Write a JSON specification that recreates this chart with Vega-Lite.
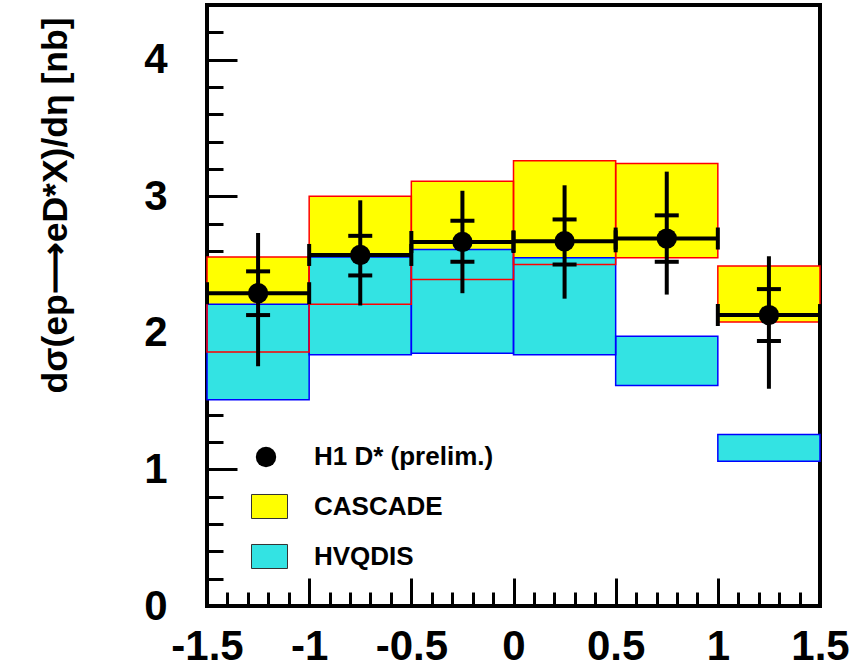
{
  "$schema": "https://vega.github.io/schema/vega-lite/v6.json",
  "width": 613,
  "height": 601,
  "autosize": "none",
  "padding": {"left": 207, "top": 5, "right": 45, "bottom": 62},
  "background": "white",
  "config": {
    "view": {"stroke": "black", "strokeWidth": 4},
    "font": "Liberation Sans",
    "axis": {"labelOverlap": false, "labelFlush": false, "labelBound": false, "domain": false, "grid": false, "tickColor": "black", "tickWidth": 3, "zindex": 1, "tickCount": 200}
  },
  "resolve": {"axis": {"x": "independent", "y": "independent"}, "scale": {"fill": "independent"}},
  "data": {
    "values": [
      {"x": -1.25, "xlo": -1.5, "xhi": -1.0, "y": 2.29, "stat_lo": 2.13, "stat_hi": 2.45, "tot_lo": 1.755, "tot_hi": 2.73, "cas_lo": 1.86, "cas_hi": 2.555, "hvq_lo": 1.51, "hvq_hi": 2.21},
      {"x": -0.75, "xlo": -1.0, "xhi": -0.5, "y": 2.57, "stat_lo": 2.42, "stat_hi": 2.71, "tot_lo": 2.2, "tot_hi": 2.97, "cas_lo": 2.21, "cas_hi": 3.0, "hvq_lo": 1.84, "hvq_hi": 2.555},
      {"x": -0.25, "xlo": -0.5, "xhi": 0.0, "y": 2.665, "stat_lo": 2.52, "stat_hi": 2.82, "tot_lo": 2.29, "tot_hi": 3.04, "cas_lo": 2.39, "cas_hi": 3.11, "hvq_lo": 1.85, "hvq_hi": 2.61},
      {"x": 0.25, "xlo": 0.0, "xhi": 0.5, "y": 2.67, "stat_lo": 2.5, "stat_hi": 2.83, "tot_lo": 2.25, "tot_hi": 3.08, "cas_lo": 2.5, "cas_hi": 3.26, "hvq_lo": 1.84, "hvq_hi": 2.55},
      {"x": 0.75, "xlo": 0.5, "xhi": 1.0, "y": 2.69, "stat_lo": 2.52, "stat_hi": 2.86, "tot_lo": 2.28, "tot_hi": 3.18, "cas_lo": 2.55, "cas_hi": 3.24, "hvq_lo": 1.615, "hvq_hi": 1.975},
      {"x": 1.25, "xlo": 1.0, "xhi": 1.5, "y": 2.13, "stat_lo": 1.94, "stat_hi": 2.32, "tot_lo": 1.59, "tot_hi": 2.56, "cas_lo": 2.08, "cas_hi": 2.49, "hvq_lo": 1.06, "hvq_hi": 1.255}
    ]
  },
  "layer": [
    {
      "mark": {"type": "rect", "strokeWidth": 0},
      "encoding": {
        "x": {
          "field": "xlo", "type": "quantitative",
          "scale": {"domain": [-1.5, 1.5], "nice": false, "zero": false},
          "axis": {
            "orient": "bottom",
            "title": null,
            "values": [-1.5, -1, -0.5, 0, 0.5, 1, 1.5],
            "labelExpr": "'' + datum.value",
            "labelFont": "Liberation Sans",
            "labelFontSize": 42,
            "labelFontWeight": "bold",
            "labelColor": "black",
            "labelPadding": 48,
            "tickSize": -28
          }
        },
        "x2": {"field": "xhi"},
        "y": {
          "field": "cas_lo", "type": "quantitative",
          "scale": {"domain": [0, 4.4], "nice": false, "zero": false},
          "axis": {
            "orient": "left",
            "title": "dσ(ep⟶eD*X)/dη [nb]",
            "titleFont": "Liberation Sans",
            "titleFontSize": 35.5,
            "titleFontWeight": "bold",
            "titleColor": "black",
            "titleAngle": 270,
            "titleAlign": "center",
            "titleBaseline": "middle",
            "titleX": -152,
            "titleY": 200,
            "values": [0, 1, 2, 3, 4],
            "labelExpr": "'' + datum.value",
            "labelFont": "Liberation Sans",
            "labelFontSize": 42,
            "labelFontWeight": "bold",
            "labelColor": "black",
            "labelPadding": 70,
            "tickSize": -30
          }
        },
        "y2": {"field": "cas_hi"},
        "fill": {
          "datum": "CASCADE", "type": "nominal",
          "scale": {"domain": ["CASCADE"], "range": ["#ffff00"]},
          "legend": {
            "orient": "none",
            "legendX": 44,
            "legendY": 483,
            "title": null,
            "padding": 0,
            "symbolType": "M-1,-0.667H1V0.667H-1Z",
            "symbolSize": 1296,
            "symbolStrokeWidth": 1,
            "symbolStrokeColor": "#333333",
            "labelFont": "Liberation Sans",
            "labelFontSize": 26,
            "labelFontWeight": "bold",
            "labelColor": "black",
            "labelOffset": 26,
            "labelLimit": 400
          }
        }
      }
    },
    {
      "mark": {"type": "rect", "strokeWidth": 0},
      "encoding": {
        "x": {
          "field": "xlo", "type": "quantitative",
          "axis": {
            "orient": "bottom",
            "title": null,
            "labels": false,
            "values": [-1.4,-1.3,-1.2,-1.1,-0.9,-0.8,-0.7,-0.6,-0.4,-0.3,-0.2,-0.1,0.1,0.2,0.3,0.4,0.6,0.7,0.8,0.9,1.1,1.2,1.3,1.4],
            "tickSize": -14
          }
        },
        "x2": {"field": "xhi"},
        "y": {
          "field": "hvq_lo", "type": "quantitative",
          "axis": {
            "orient": "left",
            "title": null,
            "labels": false,
            "values": [0.2,0.4,0.6,0.8,1.2,1.4,1.6,1.8,2.2,2.4,2.6,2.8,3.2,3.4,3.6,3.8,4.2,4.4],
            "tickSize": -16
          }
        },
        "y2": {"field": "hvq_hi"},
        "fill": {
          "datum": "HVQDIS", "type": "nominal",
          "scale": {"domain": ["HVQDIS"], "range": ["#33e3e3"]},
          "legend": {
            "orient": "none",
            "legendX": 44,
            "legendY": 533,
            "title": null,
            "padding": 0,
            "symbolType": "M-1,-0.667H1V0.667H-1Z",
            "symbolSize": 1296,
            "symbolStrokeWidth": 1,
            "symbolStrokeColor": "#333333",
            "labelFont": "Liberation Sans",
            "labelFontSize": 26,
            "labelFontWeight": "bold",
            "labelColor": "black",
            "labelOffset": 26,
            "labelLimit": 400
          }
        }
      }
    },
    {
      "mark": {"type": "rect", "filled": false, "stroke": "#0000ff", "strokeWidth": 1.5},
      "encoding": {
        "x": {"field": "xlo", "type": "quantitative", "axis": null},
        "x2": {"field": "xhi"},
        "y": {"field": "hvq_lo", "type": "quantitative", "axis": null},
        "y2": {"field": "hvq_hi"}
      }
    },
    {
      "mark": {"type": "rect", "filled": false, "stroke": "#ff0000", "strokeWidth": 1.5},
      "encoding": {
        "x": {"field": "xlo", "type": "quantitative", "axis": null},
        "x2": {"field": "xhi"},
        "y": {"field": "cas_lo", "type": "quantitative", "axis": null},
        "y2": {"field": "cas_hi"}
      }
    },
    {
      "mark": {"type": "rule", "color": "black", "strokeWidth": 4},
      "encoding": {
        "x": {"field": "xlo", "type": "quantitative", "axis": null},
        "x2": {"field": "xhi"},
        "y": {"field": "y", "type": "quantitative", "axis": null}
      }
    },
    {
      "mark": {"type": "tick", "orient": "vertical", "color": "black", "size": 22, "thickness": 4, "opacity": 1},
      "encoding": {
        "x": {"field": "xlo", "type": "quantitative", "axis": null},
        "y": {"field": "y", "type": "quantitative", "axis": null}
      }
    },
    {
      "mark": {"type": "tick", "orient": "vertical", "color": "black", "size": 22, "thickness": 4, "opacity": 1},
      "encoding": {
        "x": {"field": "xhi", "type": "quantitative", "axis": null},
        "y": {"field": "y", "type": "quantitative", "axis": null}
      }
    },
    {
      "mark": {"type": "rule", "color": "black", "strokeWidth": 4},
      "encoding": {
        "x": {"field": "x", "type": "quantitative", "axis": null},
        "y": {"field": "tot_lo", "type": "quantitative", "axis": null},
        "y2": {"field": "tot_hi"}
      }
    },
    {
      "mark": {"type": "tick", "orient": "horizontal", "color": "black", "size": 24, "thickness": 4, "opacity": 1},
      "encoding": {
        "x": {"field": "x", "type": "quantitative", "axis": null},
        "y": {"field": "stat_lo", "type": "quantitative", "axis": null}
      }
    },
    {
      "mark": {"type": "tick", "orient": "horizontal", "color": "black", "size": 24, "thickness": 4, "opacity": 1},
      "encoding": {
        "x": {"field": "x", "type": "quantitative", "axis": null},
        "y": {"field": "stat_hi", "type": "quantitative", "axis": null}
      }
    },
    {
      "mark": {"type": "point", "shape": "circle", "filled": true, "size": 415, "opacity": 1},
      "encoding": {
        "x": {"field": "x", "type": "quantitative", "axis": null},
        "y": {"field": "y", "type": "quantitative", "axis": null},
        "fill": {
          "datum": "H1 D* (prelim.)", "type": "nominal",
          "scale": {"domain": ["H1 D* (prelim.)"], "range": ["#000000"]},
          "legend": {
            "orient": "none",
            "legendX": 46,
            "legendY": 439,
            "title": null,
            "padding": 0,
            "symbolType": "circle",
            "symbolSize": 415,
            "symbolStrokeWidth": 0,
            "labelFont": "Liberation Sans",
            "labelFontSize": 26,
            "labelFontWeight": "bold",
            "labelColor": "black",
            "labelOffset": 35,
            "labelLimit": 400
          }
        }
      }
    }
  ]
}
